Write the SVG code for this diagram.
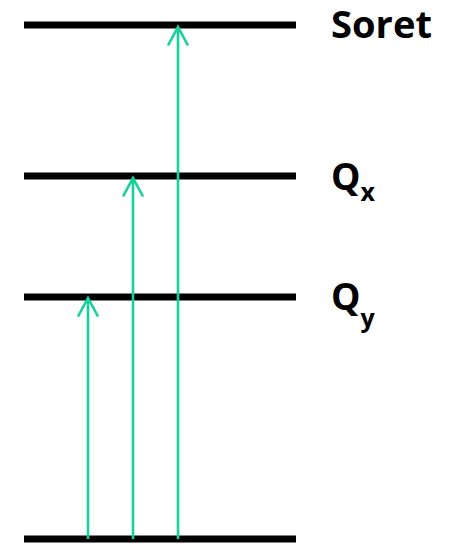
<svg xmlns="http://www.w3.org/2000/svg" width="450" height="544" viewBox="0 0 450 544">
<style>
.lvl{stroke:#000;stroke-width:7;fill:none}
.arr{stroke:#14d29a;stroke-width:2.6;fill:none}
.lbl{font-family:"Open Sans","Liberation Sans",sans-serif;font-weight:bold;font-size:37px;fill:#000}
.sub{font-size:25px}
</style>
<g id="level-ground"><line class="lvl" x1="24" y1="539" x2="296" y2="539"/></g>
<g id="level-qy"><line class="lvl" x1="24" y1="297" x2="296" y2="297"/><text class="lbl" x="331" y="310">Q<tspan class="sub" dy="17">y</tspan></text></g>
<g id="level-qx"><line class="lvl" x1="24" y1="176" x2="296" y2="176"/><text class="lbl" x="331" y="190">Q<tspan class="sub" dy="11">x</tspan></text></g>
<g id="level-soret"><line class="lvl" x1="24" y1="25" x2="296" y2="25"/><text class="lbl" x="331" y="38" textLength="101" lengthAdjust="spacingAndGlyphs">Soret</text></g>
<g id="connectors">
<path class="arr" d="M88 539V298M78 316.5L88 298L98 316.5"/>
<path class="arr" d="M133 539V178M123 196.5L133 178L143 196.5"/>
<path class="arr" d="M178 539V27M168 45.5L178 27L188 45.5"/>
</g>
</svg>
